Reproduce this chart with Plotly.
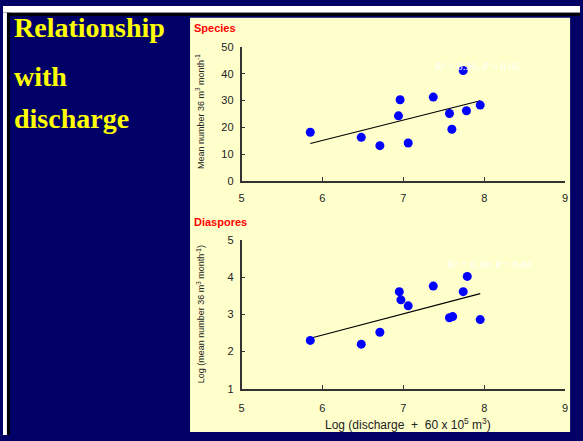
import numpy as np
import plotly.graph_objects as go

W, H = 583, 441

# ---- data ----
species_x = [5.85, 6.48, 6.71, 6.94, 6.96, 7.06, 7.37, 7.57, 7.60, 7.74, 7.78, 7.95]
species_y = [18.2, 16.3, 13.2, 24.3, 30.3, 14.2, 31.3, 25.2, 19.3, 41.2, 26.2, 28.3]
diaspores_x = [5.85, 6.48, 6.71, 6.95, 6.97, 7.06, 7.37, 7.57, 7.61, 7.74, 7.79, 7.95]
diaspores_y = [2.30, 2.20, 2.52, 3.61, 3.39, 3.23, 3.76, 2.91, 2.94, 3.61, 4.02, 2.86]
x_ticks = [5, 6, 7, 8, 9]
species_ticks = [0, 10, 20, 30, 40, 50]
diaspores_ticks = [1, 2, 3, 4, 5]

NAVY = "#000066"
PANEL = "#FFFFCC"
AXC = "#333333"


def px(x):
    return x / W


def py(y):
    return 1 - y / H


def fit(xs, ys):
    b, a = np.polyfit(xs, ys, 1)
    xx = np.array([min(xs), max(xs)])
    return xx, a + b * xx


fig = go.Figure()

# scatter + trend lines
sx, sy = fit(species_x, species_y)
dx, dy = fit(diaspores_x, diaspores_y)
fig.add_trace(go.Scatter(x=sx, y=sy, mode="lines", line=dict(color="black", width=1.2),
                         xaxis="x", yaxis="y", hoverinfo="skip"))
fig.add_trace(go.Scatter(x=species_x, y=species_y, mode="markers",
                         marker=dict(color="#0000FF", size=9), xaxis="x", yaxis="y"))
fig.add_trace(go.Scatter(x=dx, y=dy, mode="lines", line=dict(color="black", width=1.2),
                         xaxis="x2", yaxis="y2", hoverinfo="skip"))
fig.add_trace(go.Scatter(x=diaspores_x, y=diaspores_y, mode="markers",
                         marker=dict(color="#0000FF", size=9), xaxis="x2", yaxis="y2"))

xdom = [px(241), px(568)]
tickfont = dict(family="Liberation Sans, Arial", size=11, color="#222222")
common_x = dict(range=[5, 9], tickvals=x_ticks, domain=xdom, showline=True, linecolor=AXC,
                linewidth=1.5, ticks="inside", ticklen=4, tickcolor=AXC, tickwidth=1.2,
                showgrid=False, zeroline=False, tickfont=tickfont)
common_y = dict(showline=True, linecolor=AXC, linewidth=1.5, ticks="inside", ticklen=4,
                tickcolor=AXC, tickwidth=1.2, showgrid=False, zeroline=False,
                tickfont=tickfont, ticklabelstandoff=4)

fig.update_layout(
    width=W, height=H, margin=dict(l=0, r=0, t=0, b=0),
    paper_bgcolor=NAVY, plot_bgcolor="rgba(0,0,0,0)", showlegend=False,
    xaxis=dict(anchor="y", ticklabelstandoff=6, **common_x),
    yaxis=dict(anchor="x", range=[0, 50], tickvals=species_ticks,
               domain=[py(180), py(42)], **common_y),
    xaxis2=dict(anchor="y2", ticklabelstandoff=8, **common_x),
    yaxis2=dict(anchor="x2", range=[1, 5], tickvals=diaspores_ticks,
                domain=[py(393.5), py(240.5)], **common_y),
)

shapes = [
    # top white strip and black line
    dict(type="rect", xref="paper", yref="paper", x0=0, x1=1, y0=py(7), y1=1,
         fillcolor="white", line_width=0, layer="below"),
    dict(type="rect", xref="paper", yref="paper", x0=0, x1=1, y0=py(10), y1=py(7),
         fillcolor="black", line_width=0, layer="below"),
    # left strips
    dict(type="rect", xref="paper", yref="paper", x0=0, x1=px(4), y0=0, y1=py(7),
         fillcolor="white", line_width=0, layer="below"),
    dict(type="rect", xref="paper", yref="paper", x0=px(4), x1=px(7), y0=0, y1=py(7),
         fillcolor="black", line_width=0, layer="below"),
    # yellow panel
    dict(type="rect", xref="paper", yref="paper", x0=px(189), x1=px(573), y0=py(438), y1=py(12),
         fillcolor=PANEL, line_width=0, layer="below"),
]
fig.update_layout(shapes=shapes)

ann = []
serif = "Liberation Serif, Times New Roman, serif"
for txt, yc in [("Relationship", 22), ("with", 72), ("discharge", 116)]:
    ann.append(dict(text="<b>%s</b>" % txt, x=px(9), y=py(yc), xref="paper", yref="paper",
                    xanchor="left", yanchor="middle", showarrow=False,
                    font=dict(family=serif, size=28, color="#FFFF00")))
sans = "Liberation Sans, Arial, sans-serif"
ann.append(dict(text="<b>Species</b>", x=px(191), y=py(23), xref="paper", yref="paper",
                xanchor="left", yanchor="middle", showarrow=False,
                font=dict(family=sans, size=11, color="#FF0000")))
ann.append(dict(text="<b>Diaspores</b>", x=px(191), y=py(222), xref="paper", yref="paper",
                xanchor="left", yanchor="middle", showarrow=False,
                font=dict(family=sans, size=11, color="#FF0000")))
ann.append(dict(text="Mean number 36 m<sup>3</sup> month<sup>-1</sup>", x=px(199), y=py(108),
                xref="paper", yref="paper", xanchor="center", yanchor="middle",
                textangle=-90, showarrow=False, font=dict(family=sans, size=9, color="#222222")))
ann.append(dict(text="Log (mean number 36 m<sup>3</sup> month<sup>-1</sup>)", x=px(200), y=py(317),
                xref="paper", yref="paper", xanchor="center", yanchor="middle",
                textangle=-90, showarrow=False, font=dict(family=sans, size=9, color="#222222")))
ann.append(dict(text="Log (discharge  +  60 x 10<sup>5</sup> m<sup>3</sup>)", x=px(409), y=py(430),
                xref="paper", yref="paper", xanchor="center", yanchor="middle",
                showarrow=False, font=dict(family=sans, size=12, color="#222222")))
ann.append(dict(text="R² = 0.36; <i>P</i> = 0.05", x=px(480), y=py(62), xref="paper", yref="paper",
                xanchor="center", yanchor="middle", showarrow=False,
                font=dict(family=serif, size=11, color="white")))
ann.append(dict(text="R² = 0.30; P = 0.04", x=px(493), y=py(265), xref="paper", yref="paper",
                xanchor="center", yanchor="middle", showarrow=False,
                font=dict(family=serif, size=11, color="white")))
fig.update_layout(annotations=ann)

fig.write_html("out.html")
